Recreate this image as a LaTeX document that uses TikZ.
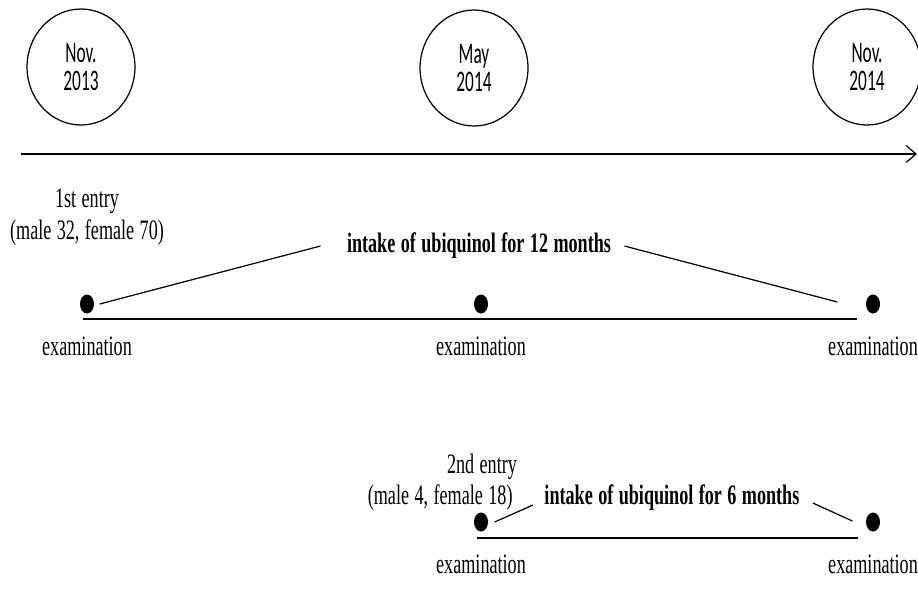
\documentclass[tikz,border=0pt]{standalone}
\usepackage{fontspec}
\setmainfont{Liberation Serif}[FakeStretch=0.645, WordSpace=1.2]
\newfontfamily\calibri{Carlito}[FakeStretch=0.58]
\usetikzlibrary{arrows.meta,positioning,shapes.geometric}

\begin{document}
\begin{tikzpicture}[
    x=0.02cm, y=-0.02cm,
    >={Straight Barb[length=0.2cm,width=0.34cm]},
    line width=0.7pt,
    font=\fontsize{16}{18}\selectfont,
    datebox/.style={draw, ellipse, minimum width=2.16cm, minimum height=2.32cm, inner sep=0pt, align=center, font=\calibri\fontsize{17}{16}\selectfont},
    visit/.style={fill, ellipse, minimum width=0.28cm, minimum height=0.38cm, inner sep=0pt},
    exam/.style={inner sep=2pt},
    intake/.style={font=\bfseries\fontsize{16}{18}\selectfont}
]
\clip (0,0) rectangle (918,599);

\node[datebox] (nov13) at (81,67) {Nov.\\2013};
\node[datebox] (may14) at (474,68) {May\\2014};
\node[datebox] (nov14) at (867,67) {Nov.\\2014};

\coordinate (tstart) at (21,154);
\coordinate (tend) at (917,154);
\draw[->] (tstart) -- (tend);

\node (entryA) at (87,201) {1st entry};
\node (groupA) at (87,233) {(male 32, female 70)};
\node[intake] (intakeA) at (479,246) {intake of ubiquinol for 12 months};
\node[visit] (visA1) at (87,304) {};
\node[visit] (visA2) at (481,304) {};
\node[visit] (visA3) at (873,304) {};
\node[exam, below=0.38cm of visA1] (examA1) {examination};
\node[exam, below=0.38cm of visA2] (examA2) {examination};
\node[exam, below=0.38cm of visA3] (examA3) {examination};
\coordinate (baseA1) at (83,319);
\coordinate (baseA2) at (857,319);
\draw (baseA1) -- (baseA2);
\draw ([xshift=0.1cm]visA1.east) -- ([xshift=-0.4cm]intakeA.west);
\draw ([xshift=0.14cm]intakeA.east) -- ([xshift=-0.56cm, yshift=0.04cm]visA3.west);

\node (entryB) at (482,467) {2nd entry};
\node[anchor=east] (groupB) at (519,498) {(male 4, female 18)};
\node[intake, anchor=west] (intakeB) at (538,498) {intake of ubiquinol for 6 months};
\node[visit] (visB1) at (481,522) {};
\node[visit] (visB2) at (873,522) {};
\node[exam, below=0.38cm of visB1] (examB1) {examination};
\node[exam, below=0.38cm of visB2] (examB2) {examination};
\coordinate (baseB1) at (477,538);
\coordinate (baseB2) at (858,538);
\draw (baseB1) -- (baseB2);
\draw ([xshift=0.12cm]visB1.east) -- ([xshift=-0.1cm, yshift=-0.14cm]intakeB.west);
\draw ([xshift=0.14cm, yshift=-0.1cm]intakeB.east) -- ([xshift=-0.26cm, yshift=0.02cm]visB2.west);
\end{tikzpicture}
\end{document}
